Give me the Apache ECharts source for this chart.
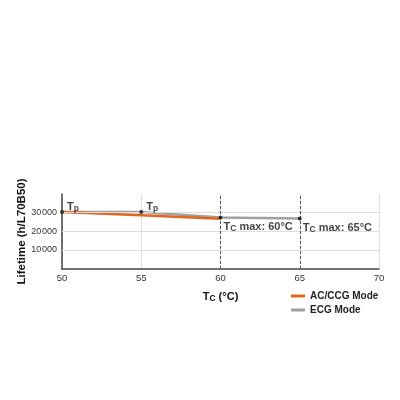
<!DOCTYPE html>
<html>
<head>
<meta charset="utf-8">
<script src="https://cdn.jsdelivr.net/npm/echarts@6/dist/echarts.min.js"></script>
<style>
  html, body { margin: 0; padding: 0; background: #fff; }
  #chart { width: 400px; height: 400px; }
</style>
</head>
<body>
<div id="chart"></div>
<script>
// data
const temps = [50, 55, 60, 65];
const acCcg = [30000, 28250, 26500, null];
const ecg = [30000, 30000, 27100, 26600];
const markerTemps = [50, 55, 60, 65];
const markerValues = [30000, 30000, 27100, 26600];
const markerLabels = ['{t|T}{s|p}', '{t|T}{s|p}', '{t|T}{s|C}{t| max: 60°C}', '{t|T}{s|C}{t| max: 65°C}'];
const markerPos = ['top', 'top', 'bottom', 'bottom'];
const yTicks = [10000, 20000, 30000];
const tcMax = [60, 65];

const font = 'Liberation Sans, Arial, sans-serif';
const rich = {
    t: { fontFamily: font, fontSize: 11, fontWeight: 'bold', color: '#111', textBorderWidth: 0 },
    s: { fontFamily: font, fontSize: 8.5, fontWeight: 'bold', color: '#111', textBorderWidth: 0, padding: [4, 0, 0, 0] }
};

const chart = echarts.init(document.getElementById('chart'));

chart.setOption({
    animation: false,
    grid: { left: 62, right: 21, top: 194, bottom: 131 },
    xAxis: {
        type: 'value',
        min: 50, max: 70, interval: 5,
        name: '{t|T}{s|C}{t| (°C)}',
        nameLocation: 'middle',
        nameGap: 21,
        nameTextStyle: { rich: rich },
        axisLine: { lineStyle: { color: '#444', width: 1.5 } },
        axisTick: { show: false },
        axisLabel: { fontFamily: font, fontSize: 9.5, color: '#333', margin: 4 },
        splitLine: { show: true, lineStyle: { color: '#ddd', width: 1 } }
    },
    yAxis: {
        type: 'value',
        min: 0, max: 39500, interval: 10000,
        name: 'Lifetime (h/L70B50)',
        nameLocation: 'middle',
        nameGap: 34,
        nameMoveOverlap: false,
        nameTextStyle: { fontFamily: font, fontSize: 11.5, fontWeight: 'bold', color: '#111' },
        axisLine: { show: true, lineStyle: { color: '#444', width: 1.5 } },
        axisTick: { show: false },
        axisLabel: {
            fontFamily: font, fontSize: 9, color: '#333', margin: 5,
            formatter: v => yTicks.indexOf(v) >= 0 ? String(v).replace(/(\d{2})(\d{3})$/, '$1\u200a$2') : ''
        },
        splitLine: { show: false }
    },
    legend: {
        orient: 'vertical',
        left: 286, top: 286,
        itemWidth: 14, itemHeight: 3, itemGap: 4,
        icon: 'rect',
        data: ['AC/CCG Mode', 'ECG Mode'],
        textStyle: { fontFamily: font, fontSize: 10, fontWeight: 'bold', color: '#222' }
    },
    series: [
        {
            name: 'grid',
            type: 'line',
            data: [],
            silent: true,
            markLine: {
                symbol: 'none', silent: true, label: { show: false },
                lineStyle: { color: '#ddd', width: 1, type: 'solid' },
                data: yTicks.map(v => ({ yAxis: v }))
            }
        },
        {
            name: 'ECG Mode',
            type: 'line',
            data: temps.map((t, i) => [t, ecg[i]]),
            showSymbol: false,
            itemStyle: { color: '#a0a0a0' },
            lineStyle: { color: '#a0a0a0', width: 2.5 },
            markLine: {
                symbol: 'none', silent: true, label: { show: false },
                lineStyle: { color: '#555', width: 1, type: [3, 2] },
                data: tcMax.map(v => ({ xAxis: v }))
            }
        },
        {
            name: 'AC/CCG Mode',
            type: 'line',
            data: temps.map((t, i) => [t, acCcg[i]]),
            showSymbol: false,
            itemStyle: { color: '#e0661e' },
            lineStyle: { color: '#e0661e', width: 2.5 }
        },
        {
            name: 'points',
            type: 'scatter',
            z: 10,
            symbolSize: 4,
            itemStyle: { color: '#111' },
            data: markerTemps.map((t, i) => ({
                value: [t, markerValues[i]],
                label: {
                    show: true,
                    position: markerPos[i],
                    align: 'left',
                    textBorderWidth: 0,
                    offset: markerPos[i] === 'top' ? [5, 8] : [3, -4],
                    formatter: markerLabels[i],
                    rich: rich
                }
            }))
        }
    ]
});
</script>
</body>
</html>
